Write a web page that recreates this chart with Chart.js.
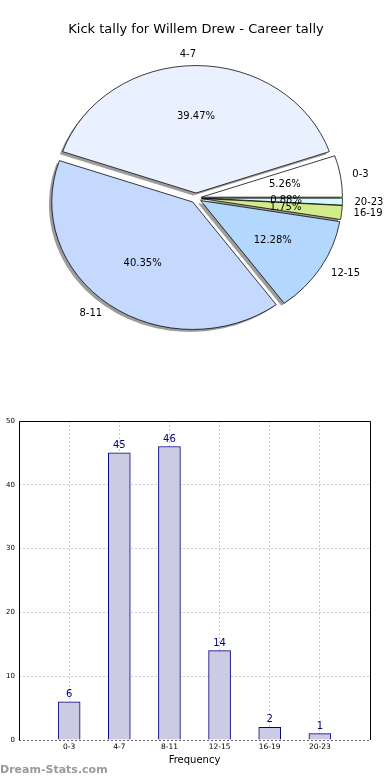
<!DOCTYPE html>
<html>
<head>
<meta charset="utf-8">
<script src="https://cdn.jsdelivr.net/npm/chart.js@4.4.1/dist/chart.umd.min.js"></script>
<style>
  body { margin: 0; background: #fff; width: 390px; height: 780px; position: relative; overflow: hidden; }
  #pie { position: absolute; left: 0; top: 0; }
  #bar { position: absolute; left: 0; top: 400px; }
  #mark { position: absolute; left: 0; top: 763px; font: bold 11px 'DejaVu Sans', sans-serif; color: #999; }
</style>
</head>
<body>
<canvas id="pie" width="390" height="400"></canvas>
<canvas id="bar" width="390" height="380"></canvas>
<div id="mark">Dream-Stats.com</div>
<script>
const title = 'Kick tally for Willem Drew - Career tally';
const categories = ['0-3', '4-7', '8-11', '12-15', '16-19', '20-23'];
const kicks = [6, 45, 46, 14, 2, 1];
const sliceColors = ['#ffffff', '#eaf1fe', '#c5d9fe', '#b4d7fe', '#d2ec8c', '#d6f8fc'];

const FONT = "'DejaVu Sans', sans-serif";
const SQUASH = 0.904;   // old matplotlib pie is a bit flatter than wide
const EXPLODE = 5.5;
const SHADOW = 2.8;

// pie: explode + shadow + squash, then labels on top
const pieDraw = {
  id: 'pieDraw',
  beforeDatasetsDraw(chart) {
    const ctx = chart.ctx;
    const arcs = chart.getDatasetMeta(0).data;
    const cx = arcs[0].x, cy = arcs[0].y;
    ctx.save();
    ctx.translate(cx, cy);
    ctx.scale(1, SQUASH);
    ctx.translate(-cx, -cy);
    arcs.forEach(a => {
      const mid = (a.startAngle + a.endAngle) / 2;
      const x = a.x + Math.cos(mid) * EXPLODE - SHADOW;
      const y = a.y + Math.sin(mid) * EXPLODE + SHADOW;
      ctx.beginPath();
      ctx.moveTo(x, y);
      ctx.arc(x, y, a.outerRadius, a.startAngle, a.endAngle);
      ctx.closePath();
      ctx.fillStyle = 'rgba(60,60,60,0.5)';
      ctx.fill();
    });
    arcs.forEach(a => {
      const mid = (a.startAngle + a.endAngle) / 2;
      ctx.save();
      ctx.translate(Math.cos(mid) * EXPLODE, Math.sin(mid) * EXPLODE);
      a.draw(ctx);
      ctx.restore();
    });
    ctx.restore();
    return false;
  },
  afterDraw(chart) {
    const ctx = chart.ctx;
    const arcs = chart.getDatasetMeta(0).data;
    const labels = chart.data.labels;
    const values = chart.data.datasets[0].data;
    const total = values.reduce((s, v) => s + v, 0);
    ctx.save();
    ctx.font = '10px ' + FONT;
    ctx.fillStyle = '#000';
    ctx.textBaseline = 'middle';
    arcs.forEach((a, i) => {
      const mid = (a.startAngle + a.endAngle) / 2;
      const c = Math.cos(mid), s = Math.sin(mid);
      const at = r => [a.x + c * (EXPLODE + r), a.y + s * (EXPLODE + r) * SQUASH];
      let [x, y] = at(1.085 * a.outerRadius);
      ctx.textAlign = c > 0.01 ? 'left' : 'right';
      ctx.fillText(labels[i], x, y);
      [x, y] = at(0.6 * a.outerRadius);
      ctx.textAlign = 'center';
      ctx.fillText((values[i] / total * 100).toFixed(2) + '%', x, y);
    });
    ctx.restore();
  }
};

// chart.js goes clockwise, matplotlib counter-clockwise -> reverse
const order = categories.map((_, i) => i).reverse();

new Chart(document.getElementById('pie'), {
  type: 'pie',
  data: {
    labels: order.map(i => categories[i]),
    datasets: [{
      data: order.map(i => kicks[i]),
      backgroundColor: order.map(i => sliceColors[i]),
      borderColor: '#000',
      borderWidth: 0.8
    }]
  },
  options: {
    responsive: false,
    animation: false,
    rotation: 90,
    radius: 141,
    layout: { padding: { left: 2, right: 0, top: 0, bottom: 41.6 } },
    plugins: {
      legend: { display: false },
      tooltip: { enabled: false },
      title: {
        display: true,
        text: title,
        color: '#000',
        font: { family: FONT, size: 13, weight: 'normal' },
        padding: { top: 22, bottom: 0 }
      }
    }
  },
  plugins: [pieDraw]
});

const barExtras = {
  id: 'barExtras',
  afterDatasetsDraw(chart) {
    const ctx = chart.ctx;
    ctx.save();
    ctx.font = '10px ' + FONT;
    ctx.fillStyle = '#000080';
    ctx.textAlign = 'center';
    ctx.textBaseline = 'alphabetic';
    chart.getDatasetMeta(0).data.forEach((bar, i) => {
      ctx.fillText(String(kicks[i]), bar.x, bar.y - 5);
    });
    ctx.restore();
  },
  afterDraw(chart) {
    const { ctx, chartArea: a } = chart;
    ctx.save();
    ctx.strokeStyle = '#000';
    ctx.lineWidth = 1;
    ctx.beginPath();
    ctx.moveTo(Math.round(a.left) + 0.5, Math.round(a.bottom));
    ctx.lineTo(Math.round(a.left) + 0.5, Math.round(a.top) + 0.5);
    ctx.lineTo(Math.round(a.right) + 0.5, Math.round(a.top) + 0.5);
    ctx.lineTo(Math.round(a.right) + 0.5, Math.round(a.bottom));
    ctx.stroke();
    ctx.restore();
  }
};

new Chart(document.getElementById('bar'), {
  type: 'bar',
  data: {
    datasets: [{
      data: kicks.map((v, i) => ({ x: i, y: v })),
      backgroundColor: '#cbcbe3',
      borderColor: '#000080',
      borderWidth: 1,
      barThickness: 22
    }]
  },
  options: {
    responsive: false,
    animation: false,
    layout: { padding: { top: 21, right: 20, left: 0, bottom: 10 } },
    plugins: { legend: { display: false }, tooltip: { enabled: false } },
    scales: {
      x: {
        type: 'linear',
        min: -1,
        max: 6,
        offset: false,
        afterBuildTicks: s => { s.ticks = categories.map((_, i) => ({ value: i })); },
        afterFit: s => { s.height = 30; },
        ticks: {
          callback: v => categories[v],
          autoSkip: false,
          maxRotation: 0,
          padding: 3,
          color: '#000',
          font: { family: FONT, size: 7.5 }
        },
        grid: { color: '#c8c8c8', drawTicks: false, offset: false },
        border: { display: false, dash: [2, 2] },
        title: {
          display: true,
          text: 'Frequency',
          color: '#000',
          font: { family: FONT, size: 10 },
          padding: { top: 0, bottom: 4 }
        }
      },
      y: {
        min: 0,
        max: 50,
        afterFit: s => { s.width = 19; },
        ticks: { stepSize: 10, padding: 4, color: '#000', font: { family: FONT, size: 7 } },
        grid: { color: c => c.tick && c.tick.value === 0 ? '#666' : '#c8c8c8', drawTicks: false },
        border: { display: false, dash: [2, 2] }
      }
    }
  },
  plugins: [barExtras]
});
</script>
</body>
</html>
